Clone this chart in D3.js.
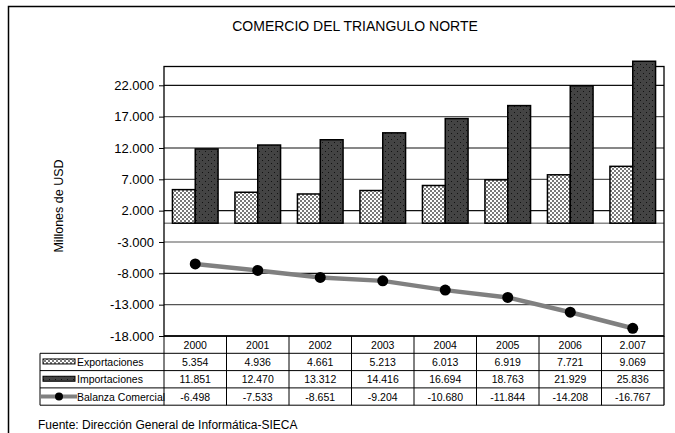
<!DOCTYPE html>
<html>
<head>
<meta charset="utf-8">
<script src="https://cdn.jsdelivr.net/npm/d3@7"></script>
<style>
  body { margin: 0; background: #fff; }
  text { font-family: Arial, "Liberation Sans", sans-serif; fill: #000; }
</style>
</head>
<body>
<div class="chart"></div>
<script>
// data
const years = ["2000", "2001", "2002", "2003", "2004", "2005", "2006", "2.007"];
const exportaciones = [5354, 4936, 4661, 5213, 6013, 6919, 7721, 9069];
const importaciones = [11851, 12470, 13312, 14416, 16694, 18763, 21929, 25836];
const balanza = [-6498, -7533, -8651, -9204, -10680, -11844, -14208, -16767];
const yTicks = [-18000, -13000, -8000, -3000, 2000, 7000, 12000, 17000, 22000];
const seriesNames = ["Exportaciones", "Importaciones", "Balanza Comercial"];

const fmt = v => {
    let s = Math.abs(v).toString().replace(/\B(?=(\d{3})+(?!\d))/g, ".");
    return (v < 0 ? "-" : "") + s;
};

let outWidth = 675, outHeight = 433;
let plot = {left: 164, right: 664, top: 66.5, bottom: 336};

const svg = d3.select('.chart').append('svg')
    .attr("width", outWidth)
    .attr("height", outHeight);

// patterns
const defs = svg.append("defs");
const pExp = defs.append("pattern").attr("id", "pexp")
    .attr("patternUnits", "userSpaceOnUse").attr("width", 4).attr("height", 4);
pExp.append("rect").attr("width", 4).attr("height", 4).attr("fill", "#fff");
pExp.append("rect").attr("width", 2).attr("height", 2).attr("fill", "#7a7a7a");
pExp.append("rect").attr("x", 2).attr("y", 2).attr("width", 2).attr("height", 2).attr("fill", "#7a7a7a");

const pImp = defs.append("pattern").attr("id", "pimp")
    .attr("patternUnits", "userSpaceOnUse").attr("width", 6).attr("height", 6);
pImp.append("rect").attr("width", 6).attr("height", 6).attr("fill", "#444");
pImp.append("rect").attr("x", 1).attr("y", 1).attr("width", 1).attr("height", 1).attr("fill", "#111");
pImp.append("rect").attr("x", 4).attr("y", 4).attr("width", 1).attr("height", 1).attr("fill", "#111");

// outer border
svg.append("rect")
    .attr("x", 8.5).attr("y", 6.5)
    .attr("width", 700).attr("height", 460)
    .attr("fill", "none").attr("stroke", "#000").attr("stroke-width", 1.5);

// title
svg.append("text")
    .attr("x", 355).attr("y", 31)
    .attr("text-anchor", "middle")
    .style("font-size", "14px")
    .text("COMERCIO DEL TRIANGULO NORTE");

// scales
let x = d3.scaleBand()
    .domain(years)
    .range([plot.left, plot.right]);

let xSub = d3.scaleBand()
    .domain(["exp", "imp"])
    .range([0, x.bandwidth()])
    .paddingInner(0)
    .paddingOuter(0.37);

let y = d3.scaleLinear()
    .domain([-18000, 25000])
    .range([plot.bottom, plot.top]);

// gridlines
svg.append("g")
    .selectAll("line")
    .data(yTicks.filter(d => d > -18000))
    .join("line")
    .attr("x1", plot.left).attr("x2", plot.right)
    .attr("y1", d => y(d)).attr("y2", d => y(d))
    .attr("stroke", (d, i) => i % 2 ? "#111" : "#555")
    .attr("stroke-width", 1.2);

// zero line
svg.append("line")
    .attr("x1", plot.left).attr("x2", plot.right)
    .attr("y1", y(0)).attr("y2", y(0))
    .attr("stroke", "#888").attr("stroke-width", 1.5);

// plot border
svg.append("rect")
    .attr("x", plot.left).attr("y", plot.top)
    .attr("width", plot.right - plot.left).attr("height", plot.bottom - plot.top)
    .attr("fill", "none").attr("stroke", "#000").attr("stroke-width", 1.3);

// y axis
const yAxis = svg.append("g")
    .attr("transform", `translate(${plot.left},0)`)
    .call(d3.axisLeft(y).tickValues(yTicks).tickFormat(fmt).tickSize(5).tickPadding(5));
yAxis.select(".domain").remove();
yAxis.selectAll("text").style("font-size", "13px");
yAxis.selectAll("line").attr("stroke", "#000");

svg.append("text")
    .attr("transform", "translate(63,206) rotate(-90)")
    .attr("text-anchor", "middle")
    .style("font-size", "12.5px")
    .text("Millones de USD");

// bars
const bars = svg.append("g");
years.forEach((yr, i) => {
    bars.append("rect")
        .attr("x", x(yr) + xSub("exp"))
        .attr("y", y(exportaciones[i]))
        .attr("width", xSub.bandwidth())
        .attr("height", y(0) - y(exportaciones[i]))
        .attr("fill", "url(#pexp)")
        .attr("stroke", "#000").attr("stroke-width", 1.5);
    bars.append("rect")
        .attr("x", x(yr) + xSub("imp"))
        .attr("y", y(importaciones[i]))
        .attr("width", xSub.bandwidth())
        .attr("height", y(0) - y(importaciones[i]))
        .attr("fill", "url(#pimp)")
        .attr("stroke", "#000").attr("stroke-width", 1.5);
});

// line
const line = d3.line()
    .x((d, i) => x(years[i]) + x.bandwidth() / 2)
    .y(d => y(d));

svg.append("path")
    .datum(balanza)
    .attr("d", line)
    .attr("fill", "none")
    .attr("stroke", "#808080")
    .attr("stroke-width", 4.5);

svg.append("g")
    .selectAll("circle")
    .data(balanza)
    .join("circle")
    .attr("cx", (d, i) => x(years[i]) + x.bandwidth() / 2)
    .attr("cy", d => y(d))
    .attr("r", 5.5)
    .attr("fill", "#000");

// data table
let rowH = 17.3;
let tTop = plot.bottom;
let legendLeft = 40;
const table = svg.append("g");
const rows = [exportaciones, importaciones, balanza];

// header years
years.forEach((yr, i) => {
    table.append("text")
        .attr("x", x(yr) + x.bandwidth() / 2)
        .attr("y", tTop + rowH / 2 + 4)
        .attr("text-anchor", "middle")
        .style("font-size", "10.5px")
        .text(yr);
});

rows.forEach((r, j) => {
    let ry = tTop + rowH * (j + 1);
    r.forEach((v, i) => {
        table.append("text")
            .attr("x", x(years[i]) + x.bandwidth() / 2)
            .attr("y", ry + rowH / 2 + 4)
            .attr("text-anchor", "middle")
            .style("font-size", "10.5px")
            .text(fmt(v));
    });
    table.append("text")
        .attr("x", 77)
        .attr("y", ry + rowH / 2 + 4)
        .style("font-size", "10.5px")
        .text(seriesNames[j]);
});

// table lines
table.append("line")
    .attr("x1", plot.left).attr("x2", plot.right)
    .attr("y1", tTop).attr("y2", tTop)
    .attr("stroke", "#000").attr("stroke-width", 1.3);
for (let j = 1; j <= 4; j++) {
    table.append("line")
        .attr("x1", legendLeft)
        .attr("x2", plot.right)
        .attr("y1", tTop + rowH * j).attr("y2", tTop + rowH * j)
        .attr("stroke", "#000").attr("stroke-width", 1);
}
table.append("line")
    .attr("x1", legendLeft).attr("x2", legendLeft)
    .attr("y1", tTop + rowH).attr("y2", tTop + rowH * 4)
    .attr("stroke", "#000");
years.forEach(yr => {
    table.append("line")
        .attr("x1", x(yr)).attr("x2", x(yr))
        .attr("y1", tTop).attr("y2", tTop + rowH * 4)
        .attr("stroke", "#000");
});
table.append("line")
    .attr("x1", plot.right).attr("x2", plot.right)
    .attr("y1", tTop).attr("y2", tTop + rowH * 4)
    .attr("stroke", "#000").attr("stroke-width", 1.3);

// legend keys
table.append("rect")
    .attr("x", 43).attr("y", tTop + rowH * 1.5 - 3)
    .attr("width", 32).attr("height", 5)
    .attr("fill", "url(#pexp)").attr("stroke", "#000");
table.append("rect")
    .attr("x", 43).attr("y", tTop + rowH * 2.5 - 3)
    .attr("width", 32).attr("height", 5)
    .attr("fill", "url(#pimp)").attr("stroke", "#000");
table.append("line")
    .attr("x1", legendLeft).attr("x2", 77)
    .attr("y1", tTop + rowH * 3.5).attr("y2", tTop + rowH * 3.5)
    .attr("stroke", "#808080").attr("stroke-width", 4);
table.append("circle")
    .attr("cx", 59).attr("cy", tTop + rowH * 3.5)
    .attr("r", 4).attr("fill", "#000");

// source
svg.append("text")
    .attr("x", 38).attr("y", 429)
    .style("font-size", "12px")
    .text("Fuente: Dirección General de Informática-SIECA");
</script>
</body>
</html>
